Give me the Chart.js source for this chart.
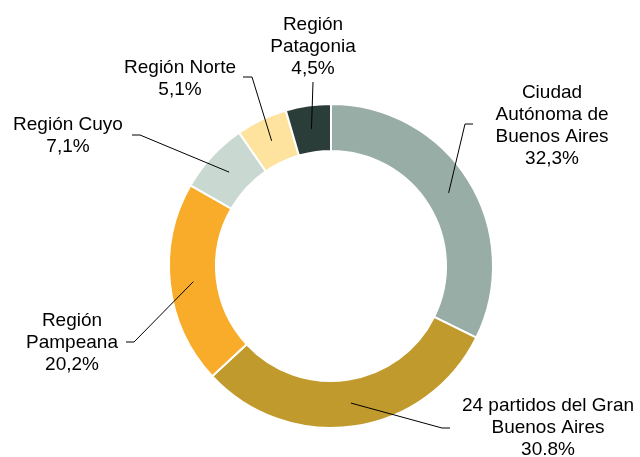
<!DOCTYPE html>
<html>
<head>
<meta charset="utf-8">
<script src="https://cdn.jsdelivr.net/npm/chart.js@4/dist/chart.umd.min.js"></script>
<style>
  html, body { margin: 0; padding: 0; background: #fff; }
  #wrap { width: 640px; height: 457px; }
</style>
</head>
<body>
<div id="wrap"><canvas id="chart" width="640" height="457"></canvas></div>
<script>
// data
const categories = [
  'Ciudad Autónoma de Buenos Aires',
  '24 partidos del Gran Buenos Aires',
  'Región Pampeana',
  'Región Cuyo',
  'Región Norte',
  'Región Patagonia'
];
const shares = [32.3, 30.8, 20.2, 7.1, 5.1, 4.5];
const shareLabels = ['32,3%', '30.8%', '20,2%', '7,1%', '5,1%', '4,5%'];
// how each category name is broken over lines in its label
const nameLines = [
  ['Ciudad', 'Autónoma de', 'Buenos Aires'],
  ['24 partidos del Gran', 'Buenos Aires'],
  ['Región', 'Pampeana'],
  ['Región Cuyo'],
  ['Región Norte'],
  ['Región', 'Patagonia']
];
const sliceColors = ['#97ADA6', '#C19A2D', '#F8AC29', '#C9D9D2', '#FDE39E', '#2B3D38'];

// label placement (text centre / first baseline, leader elbow, leader tick end)
const labelLayout = [
  { tx: 552, ty: 98,  ex: 465, ey: 124, kx: 473, ky: 124 },
  { tx: 548, ty: 411, ex: 442, ey: 428, kx: 450, ky: 428 },
  { tx: 72,  ty: 326, ex: 134, ey: 342, kx: 126, ky: 342 },
  { tx: 68,  ty: 130, ex: 140, ey: 135, kx: 132, ky: 135 },
  { tx: 180, ty: 73,  ex: 252, ey: 77,  kx: 243, ky: 77 },
  { tx: 313, ty: 30,  ex: 313, ey: 82,  kx: 313, ky: 82 }
];
const LINE_H = 22;

const leaderLabels = {
  id: 'leaderLabels',
  afterDatasetsDraw(chart) {
    const ctx = chart.ctx;
    const arcs = chart.getDatasetMeta(0).data;
    ctx.save();
    ctx.strokeStyle = '#000';
    ctx.lineWidth = 1;
    ctx.fillStyle = '#000';
    ctx.font = '19px "Liberation Sans", Arial, sans-serif';
    ctx.textAlign = 'center';
    ctx.textBaseline = 'alphabetic';
    arcs.forEach((arc, i) => {
      const p = arc.getProps(['x', 'y', 'startAngle', 'endAngle', 'innerRadius', 'outerRadius'], true);
      const a = (p.startAngle + p.endAngle) / 2;
      const r = (p.innerRadius + p.outerRadius) / 2;
      const sx = p.x + Math.cos(a) * r;
      const sy = p.y + Math.sin(a) * r;
      const L = labelLayout[i];
      ctx.beginPath();
      ctx.moveTo(sx, sy);
      ctx.lineTo(L.ex, L.ey);
      ctx.lineTo(L.kx, L.ky);
      ctx.stroke();
      const lines = nameLines[i].concat([shareLabels[i]]);
      lines.forEach((t, j) => ctx.fillText(t, L.tx, L.ty + j * LINE_H));
    });
    ctx.restore();
  }
};

new Chart(document.getElementById('chart'), {
  type: 'doughnut',
  data: {
    labels: categories,
    datasets: [{
      data: shares,
      backgroundColor: sliceColors,
      borderColor: '#fff',
      borderWidth: 2,
      hoverOffset: 0,
      offset: 0
    }]
  },
  options: {
    responsive: false,
    animation: false,
    cutout: '71%',
    rotation: 0,
    layout: { padding: { left: 22, right: 0, top: 103, bottom: 28 } },
    plugins: {
      legend: { display: false },
      tooltip: { enabled: false }
    }
  },
  plugins: [leaderLabels]
});
</script>
</body>
</html>
